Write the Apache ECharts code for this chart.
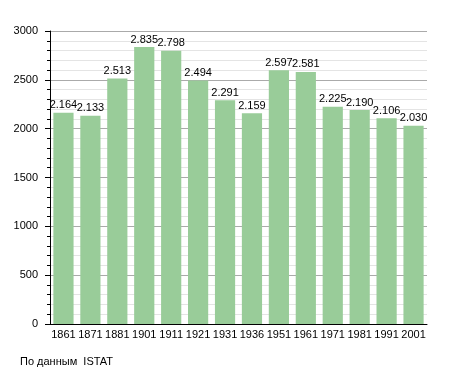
<!DOCTYPE html>
<html><head><meta charset="utf-8">
<script src="https://cdn.jsdelivr.net/npm/echarts@6/dist/echarts.min.js"></script>
<style>html,body{margin:0;padding:0;background:#fff}#c{width:455px;height:373px}</style>
</head><body><div id="c"></div>
<script>
const years = ['1861','1871','1881','1901','1911','1921','1931','1936','1951','1961','1971','1981','1991','2001'];
const population = [2164,2133,2513,2835,2798,2494,2291,2159,2597,2581,2225,2190,2106,2030];
const yTicks = [0,500,1000,1500,2000,2500,3000];
const sourceText = 'По данным  ISTAT';

const chart = echarts.init(document.getElementById('c'), null, {renderer:'canvas'});
const font = 'Liberation Sans, Arial, sans-serif';
chart.setOption({
  animation:false,
  grid:{left:50,right:28,top:31,bottom:49},
  graphic:[{type:'text',left:20,top:356,style:{text:sourceText,font:'11px '+font,fill:'#000'}}],
  xAxis:{type:'category',data:years,
    axisLine:{lineStyle:{color:'#000',width:1}},
    axisTick:{show:false},
    axisLabel:{color:'#000',fontFamily:font,fontSize:11,margin:5,interval:0}},
  yAxis:{type:'value',min:yTicks[0],max:yTicks[yTicks.length-1],interval:500,
    axisLine:{show:true,lineStyle:{color:'#000'}},
    axisTick:{show:true,length:5,lineStyle:{color:'#000'}},
    minorTick:{show:true,splitNumber:5,length:3,lineStyle:{color:'#000'}},
    splitLine:{lineStyle:{color:'#aaa'}},
    minorSplitLine:{show:true,lineStyle:{color:'#e4e4e4'}},
    axisLabel:{color:'#000',fontFamily:font,fontSize:11,margin:12,formatter:v=>String(v)}},
  series:[{type:'bar',data:population,barCategoryGap:'25%',
    itemStyle:{color:'#99cc99'},
    label:{show:true,position:'top',distance:2,color:'#000',fontFamily:font,fontSize:11,
      formatter:p=>String(p.value).replace(/\B(?=(\d{3})+(?!\d))/g,'.')}}]
});
</script></body></html>
